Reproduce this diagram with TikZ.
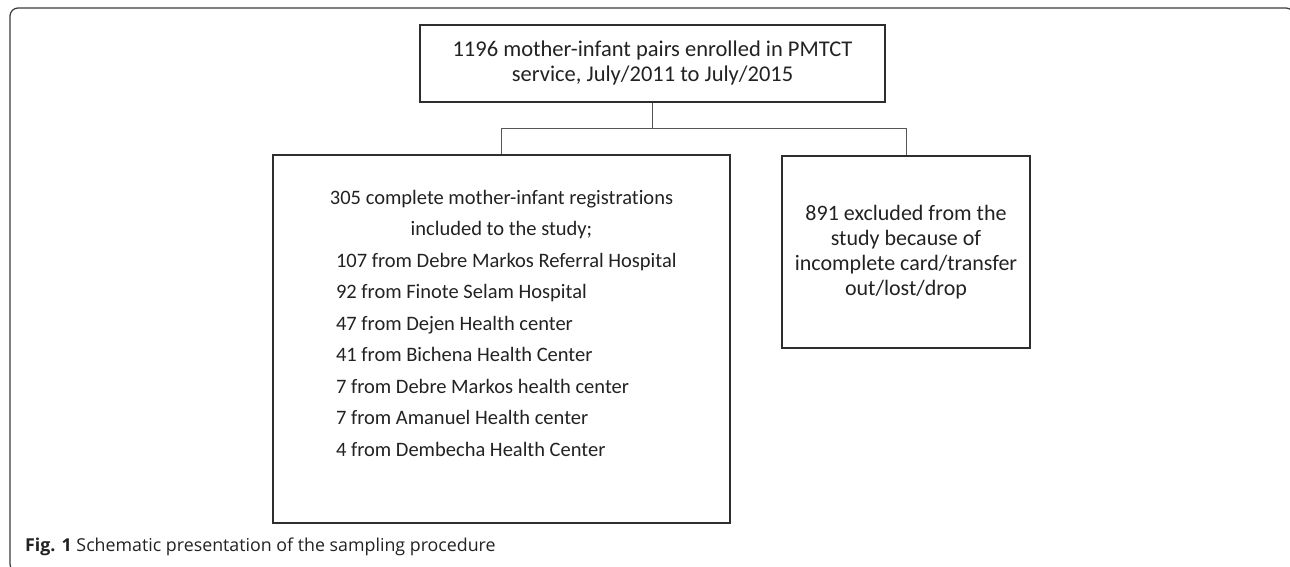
\documentclass[tikz,border=0pt]{standalone}
\usepackage{fontspec}
\setmainfont{Carlito}[Ligatures={NoCommon}]
\newfontfamily\captionfont{Open Sans}
\usetikzlibrary{positioning, calc}

\definecolor{framegray}{HTML}{3A3A3A}
\definecolor{boxline}{HTML}{2E2E2E}
\definecolor{linkgray}{HTML}{555555}
\definecolor{textgray}{HTML}{222222}

\begin{document}
\begin{tikzpicture}[x=1pt, y=-1pt,
    box/.style={draw=boxline, line width=1.3pt, inner sep=0pt, text=textgray,
        font=\fontsize{22}{25}\selectfont},
    link/.style={draw=linkgray, line width=1pt}]

% Canvas and outer frame
\useasboundingbox (0,0) rectangle (1290,567);
\begin{scope}
    \clip (0,0) rectangle (1290,567);
    \draw[framegray, line width=1.2pt, rounded corners=8pt] (10,8) rectangle (1294,572);
\end{scope}

% Enrolled pairs
\node[box, minimum width=465pt, minimum height=77pt, align=center,
    font=\fontsize{22.5}{25}\selectfont] (enrolled) at (652.5,63.5)
    {1196 mother-infant pairs enrolled in PMTCT\\ service, July/2011 to July/2015};

% Included registrations
\node[box, minimum width=457pt, minimum height=368pt] (included) at (501.5,339)
    {\parbox[c][368pt][t]{457pt}{\fontsize{20.5}{31.5}\selectfont\vspace*{35pt}%
    \centering 305 complete mother-infant registrations\\ included to the study;\par
    \raggedright\leftskip=63pt
    107 from Debre Markos Referral Hospital\\
    92 from Finote Selam Hospital\\
    47 from Dejen Health center\\
    41 from Bichena Health Center\\
    7 from Debre Markos health center\\
    7 from Amanuel Health center\\
    4 from Dembecha Health Center\par}};

% Excluded pairs
\node[box, minimum width=248pt, minimum height=192pt, align=center] (excluded) at (906,252)
    {891 excluded from the\\ study because of\\ incomplete card/transfer\\ out/lost/drop};

% Connectors
\coordinate[below=26pt of enrolled] (split);
\draw[link] (enrolled) -- (split);
\draw[link] (included.north) |- (split) -| (excluded.north);

% Caption
\node[anchor=base west, inner sep=0pt, text=textgray,
    font=\captionfont\fontsize{17.8}{20}\selectfont] (caption) at (25,551.5)
    {\textbf{Fig. 1} Schematic presentation of the sampling procedure};

\end{tikzpicture}
\end{document}
